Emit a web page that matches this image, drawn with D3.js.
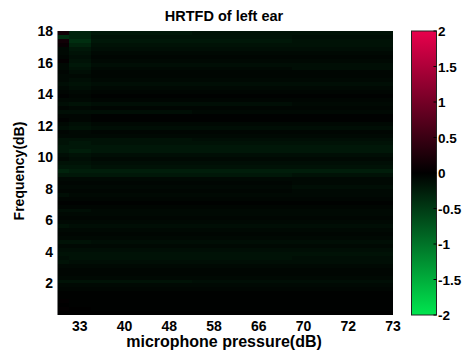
<!DOCTYPE html>
<html>
<head>
<meta charset="utf-8">
<script src="https://cdn.jsdelivr.net/npm/d3@7"></script>
<style>
  body { margin: 0; background: #fff; }
  svg text { font-family: Arial, "Liberation Sans", sans-serif; font-weight: bold; fill: #000; }
</style>
</head>
<body>
<div id="chart"></div>
<script>
// Column tick labels (microphone pressure, dB) and where they sit on the column index axis
const pressureLabels = ['33', '40', '48', '58', '66', '70', '72', '73'];
const pressureTickPos = [2, 6, 10, 14, 18, 22, 26, 30];
const freqTicks = [2, 4, 6, 8, 10, 12, 14, 16, 18];
const colorTicks = [-2, -1.5, -1, -0.5, 0, 0.5, 1, 1.5, 2];

// cell codes -> HRTFD value
const levelCodes = ['0', '1', '2', '3', '4', '5', '6', '7', '8', '9', 'a', 'b', 'c', 'd'];
const levelValues = [0, -0.02, -0.05, -0.08, -0.12, -0.16, -0.2, -0.25, -0.3, -0.4, 0.03, 0.08, 0.15, 0.25];

// rows from top (18) to bottom (0), 30 columns each
const hrtfdRows = [
  'c 88 666666666 555555555 555555555',
  '9 88 555555555 555555555 444444444',
  'c 99 666666666 666666666 555555555',
  'b 88 555555555 555555555 555555555',
  '3 66 444444444 444444444 444444444',
  '3 55 333333333 333333333 333333333',
  '2 44 222222222 222222222 222222222',
  'a 55 333333333 333333333 333333333',
  '3 66 444444444 444444444 444444444',
  '3 55 333333333 333333333 444444444',
  '2 44 222222222 222222222 222222222',
  '3 33 222222222 222222222 222222222',
  '3 44 333333333 333333333 333333333',
  '4 55 444444444 444444444 444444444',
  '3 44 333333333 333333333 333333333',
  '2 33 222222222 222222222 222222222',
  '1 22 111111111 111111111 111111111',
  '3 33 222222222 222222222 222222222',
  '4 55 444444444 444444444 333333333',
  '2 33 222222222 222222222 222222222',
  '4 44 444444444 333333333 333333333',
  '2 22 111111111 111111111 111111111',
  '1 22 111111111 111111111 111111111',
  '3 44 333333333 333333333 333333333',
  '4 55 444444444 444444444 444444444',
  '2 33 222222222 222222222 222222222',
  '3 33 333333333 333333333 333333333',
  '5 55 555555555 444444444 444444444',
  '5 66 555555555 555555555 555555555',
  '6 66 666666666 666666666 666666666',
  '6 77 666666666 666666666 666666666',
  '4 55 444444444 444444444 444444444',
  '3 44 333333333 333333333 333333333',
  '5 55 444444444 444444444 444444444',
  '6 66 555555555 555555555 555555555',
  '8 77 777777777 777777777 777777777',
  '6 66 666666666 666666666 555555555',
  '3 33 333333333 333333333 333333333',
  '2 22 222222222 222222222 333333333',
  '3 33 333333333 333333333 444444444',
  '2 22 222222222 222222222 333333333',
  '4 33 333333333 333333333 333333333',
  '2 22 222222222 222222222 222222222',
  '1 11 111111111 111111111 111111111',
  '2 22 222222222 222222222 222222222',
  '4 44 333333333 333333333 333333333',
  '3 33 333333333 333333333 333333333',
  '2 22 222222222 222222222 222222222',
  '3 33 333333333 333333333 333333333',
  '5 44 444444444 444444444 444444444',
  '3 33 333333333 333333333 333333333',
  '2 22 222222222 222222222 222222222',
  '3 33 333333333 333333333 333333333',
  '5 55 444444444 444444444 444444444',
  '3 33 333333333 333333333 333333333',
  '4 44 444444444 444444444 444444444',
  '5 55 555555555 555555555 555555555',
  '4 55 555555555 555555555 444444444',
  '5 44 444444444 444444444 444444444',
  '3 33 333333333 333333333 333333333',
  '2 22 222222222 222222222 222222222',
  '2 22 222222222 222222222 222222222',
  '3 33 333333333 333333333 333333333',
  '5 55 555555555 444444444 444444444',
  '3 33 333333333 333333333 333333333',
  '2 22 222222222 222222222 222222222',
  '1 11 111111111 111111111 111111111',
  '1 11 111111111 111111111 111111111',
  'a 11 111111111 111111111 111111111',
  '0 11 111111111 111111111 111111111',
  'a 00 111111111 111111111 111111111',
  '0 00 000000000 000000000 000000000'
];

const width = 474, height = 353;
const plot = { left: 57.5, right: 393, top: 31, bottom: 315 };
const bar = { left: 411.5, right: 436.5 };

const cells = [];
const nRows = hrtfdRows.length;
const fMax = 18;
const rowStep = fMax / nRows;
hrtfdRows.forEach((row, r) => {
  row.replace(/ /g, '').split('').forEach((ch, c) => {
    cells.push({ col: c, fTop: fMax - r * rowStep, v: levelValues[levelCodes.indexOf(ch)] });
  });
});

const x = d3.scaleLinear().domain([0, 30]).range([plot.left, plot.right]);
const y = d3.scaleLinear().domain([0, 18]).range([plot.bottom, plot.top]);
const color = d3.scaleLinear().domain([-2, 0, 2]).range(['#00e64f', '#000000', '#e8004c']);

const svg = d3.select('#chart').append('svg')
  .attr('width', width).attr('height', height);

svg.append('rect').attr('x', plot.left).attr('y', plot.top)
  .attr('width', plot.right - plot.left).attr('height', plot.bottom - plot.top)
  .attr('fill', '#000');

svg.append('g').attr('shape-rendering', 'crispEdges')
  .selectAll('rect').data(cells).join('rect')
  .attr('x', d => x(d.col))
  .attr('width', d => x(d.col + 1) - x(d.col))
  .attr('y', d => y(d.fTop))
  .attr('height', d => y(d.fTop - rowStep) - y(d.fTop))
  .attr('fill', d => color(d.v));

// x tick labels
svg.append('g').selectAll('text').data(pressureLabels).join('text')
  .attr('x', (d, i) => x(pressureTickPos[i]))
  .attr('y', 331)
  .attr('text-anchor', 'middle')
  .style('font-size', '14px')
  .text(d => d);

// y tick labels
svg.append('g').selectAll('text').data(freqTicks).join('text')
  .attr('x', 53)
  .attr('y', d => y(d) + 5)
  .attr('text-anchor', 'end')
  .style('font-size', '14px')
  .text(d => d);

svg.append('text').attr('x', 224).attr('y', 21).attr('text-anchor', 'middle')
  .style('font-size', '14.5px').text('HRTFD of left ear');

svg.append('text').attr('x', 224).attr('y', 347).attr('text-anchor', 'middle')
  .style('font-size', '16px').text('microphone pressure(dB)');

svg.append('text').attr('transform', 'translate(24,171) rotate(-90)')
  .attr('text-anchor', 'middle')
  .style('font-size', '14px').text('Frequency(dB)');

// colorbar
const cy = d3.scaleLinear().domain([-2, 2]).range([plot.bottom, plot.top]);
const grad = svg.append('defs').append('linearGradient').attr('id', 'cbar')
  .attr('x1', 0).attr('y1', 1).attr('x2', 0).attr('y2', 0);
grad.selectAll('stop').data(colorTicks).join('stop')
  .attr('offset', d => (d + 2) / 4)
  .attr('stop-color', d => color(d));

svg.append('rect').attr('x', bar.left).attr('y', plot.top)
  .attr('width', bar.right - bar.left).attr('height', plot.bottom - plot.top)
  .attr('fill', 'url(#cbar)').attr('stroke', '#222').attr('stroke-width', 1);

svg.append('g').selectAll('line').data(colorTicks).join('line')
  .attr('x1', bar.right - 3).attr('x2', bar.right)
  .attr('y1', d => cy(d)).attr('y2', d => cy(d))
  .attr('stroke', '#000');

svg.append('g').selectAll('text').data(colorTicks).join('text')
  .attr('x', bar.right + 1.5)
  .attr('y', d => cy(d) + 5)
  .style('font-size', '13.5px')
  .text(d => d);
</script>
</body>
</html>
